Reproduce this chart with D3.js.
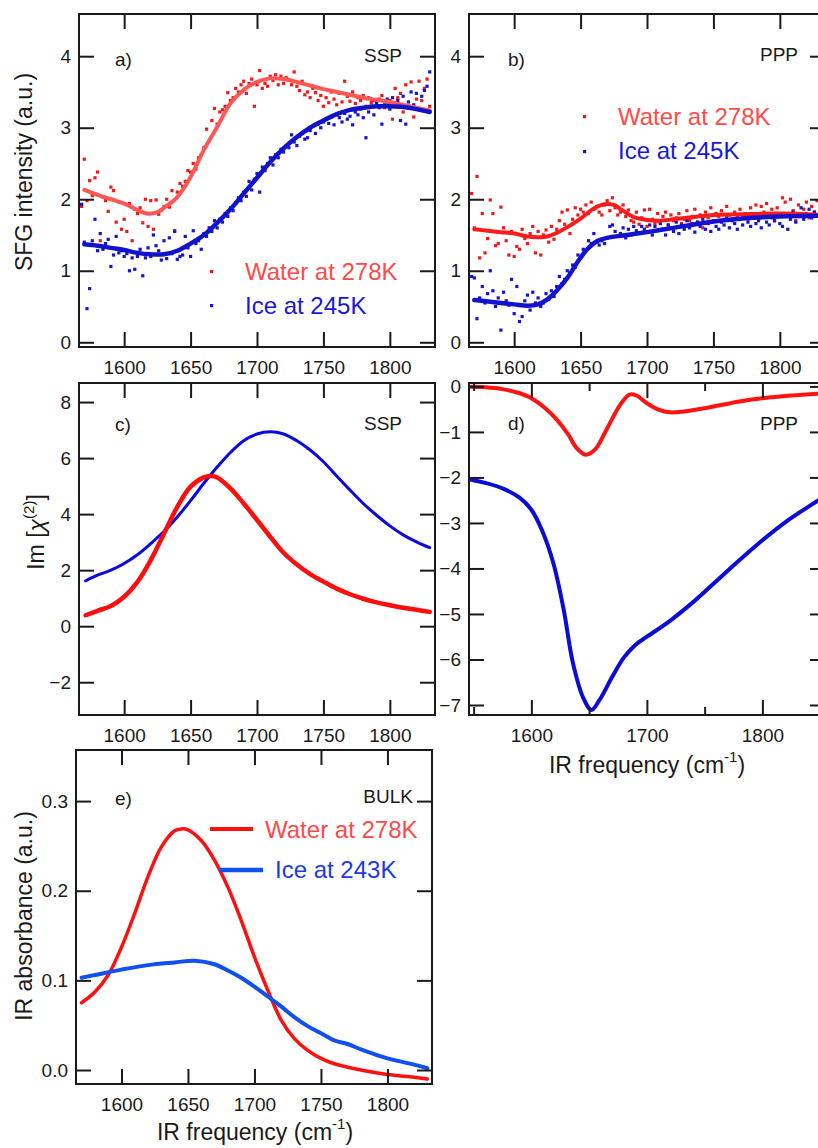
<!DOCTYPE html>
<html>
<head>
<meta charset="utf-8">
<script src="https://cdn.jsdelivr.net/npm/d3@7"></script>
<style>
  html, body { margin: 0; padding: 0; background: #fff; }
  svg { display: block; font-family: "Liberation Sans", Arial, sans-serif; }
  .tick text { font-family: "Liberation Sans", Arial, sans-serif; }
</style>
</head>
<body>
<svg id="fig" width="818" height="1148"></svg>
<script>
// ---------- measured spectra ----------
// SFG scatter data share one IR frequency grid (cm^-1, 2 cm^-1 steps)
const sfgFreq = d3.range(1568, 1831, 2);

const waterSSP = [
  1.90, 2.56, 1.98, 2.26, 2.05, 2.30, 2.38, 1.42, 2.03, 1.98,
  1.83, 2.17, 2.12, 1.68, 1.96, 1.58, 1.72, 1.55, 1.94, 1.42,
  1.86, 1.80, 1.88, 1.67, 2.00, 1.62, 1.98, 1.58, 1.99, 1.79,
  1.85, 1.90, 2.00, 1.89, 2.12, 1.56, 2.10, 2.22, 2.18, 2.25,
  2.40, 2.38, 2.50, 2.42, 2.58, 2.62, 2.72, 2.98, 2.82, 3.10,
  3.27, 3.05, 3.22, 3.25, 3.30, 3.49, 3.38, 3.42, 3.55, 3.50,
  3.60, 3.65, 3.48, 3.62, 3.68, 3.30, 3.60, 3.80, 3.55, 3.62,
  3.58, 3.72, 3.66, 3.74, 3.60, 3.72, 3.62, 3.70, 3.66, 3.60,
  3.78, 3.58, 3.52, 3.65, 3.46, 3.50, 3.42, 3.55, 3.49, 3.38,
  3.45, 3.30, 3.42, 3.35, 3.50, 3.40, 3.32, 3.48, 3.36, 3.65,
  3.44, 3.37, 3.50, 3.34, 3.42, 3.38, 3.45, 3.30, 3.42, 3.35,
  3.38, 3.32, 3.40, 3.45, 3.28, 3.35, 3.38, 3.12, 3.55, 3.42,
  3.48, 3.22, 3.60, 3.30, 3.64, 3.15, 3.40, 3.65, 3.38, 3.55,
  3.68, 3.30
];
const iceSSP = [
  1.93, 1.40, 0.47, 0.75, 1.42, 1.72, 1.28, 1.52, 1.30, 1.38,
  1.44, 1.06, 1.22, 1.48, 1.25, 1.28, 1.20, 1.24, 1.00, 1.18,
  1.02, 1.20, 1.30, 0.93, 1.18, 1.32, 1.20, 1.50, 1.35, 1.28,
  1.15, 1.42, 1.17, 1.46, 1.24, 1.55, 1.16, 1.20, 1.22, 1.48,
  1.32, 1.20, 1.56, 1.38, 1.42, 1.30, 1.52, 1.48, 1.60, 1.55,
  1.70, 1.60, 1.72, 1.68, 1.80, 1.76, 1.88, 1.84, 1.95, 2.02,
  1.98, 2.10, 2.04, 2.25, 2.13, 2.28, 2.36, 2.10, 2.45, 2.40,
  2.50, 2.58, 2.48, 2.62, 2.58, 2.70, 2.66, 2.75, 2.72, 2.90,
  2.80, 2.75, 2.88, 2.92, 2.84, 2.86, 2.96, 3.02, 2.92, 3.05,
  3.00, 3.08, 3.12, 3.06, 3.15, 3.04, 3.18, 3.14, 3.08, 3.20,
  3.12, 3.16, 3.04, 3.22, 3.18, 3.26, 3.14, 2.86, 3.22, 3.30,
  3.18, 3.35, 3.28, 3.05, 3.32, 3.40, 3.26, 3.42, 3.30, 3.38,
  3.10, 3.44, 3.05, 3.36, 3.50, 3.32, 3.48, 3.25, 3.44, 3.52,
  3.58, 3.78
];
const waterPPP = [
  2.08, 1.60, 2.32, 1.18, 1.80, 1.25, 1.45, 1.99, 1.80, 1.35,
  1.38, 1.89, 1.60, 1.42, 1.22, 1.55, 1.20, 1.34, 1.30, 1.58,
  1.45, 1.38, 1.52, 1.62, 1.25, 1.55, 1.22, 1.50, 1.57, 1.40,
  1.62, 1.44, 1.58, 1.70, 1.82, 1.65, 1.85, 1.52, 1.72, 1.88,
  1.78, 1.86, 1.82, 1.92, 1.80, 1.96, 1.86, 1.90, 1.82, 1.78,
  1.92, 1.98, 1.84, 2.02, 1.88, 1.78, 1.82, 1.92, 1.76, 1.85,
  1.70, 1.68, 1.82, 1.65, 1.74, 1.85, 1.62, 1.86, 1.72, 1.66,
  1.80, 1.68, 1.76, 1.82, 1.64, 1.78, 1.70, 1.74, 1.80, 1.66,
  1.72, 1.84, 1.70, 1.76, 1.86, 1.68, 1.78, 1.60, 1.82, 1.74,
  1.88, 1.70, 1.80, 1.76, 1.84, 1.72, 1.90, 1.78, 1.72, 1.82,
  1.76, 1.86, 1.74, 1.80, 1.72, 1.88, 1.78, 1.92, 1.74, 1.90,
  1.82, 1.94, 1.76, 1.86, 1.70, 1.88, 1.80, 2.02, 1.96, 1.78,
  2.00, 1.84, 1.70, 1.92, 1.78, 1.86, 1.96, 1.74, 1.90, 1.82,
  1.98, 1.86
];
const icePPP = [
  0.92, 0.90, 0.33, 0.62, 0.78, 0.55, 0.68, 1.00, 0.72, 0.50,
  0.62, 0.17, 0.70, 0.58, 0.52, 0.88, 0.40, 0.78, 0.29, 0.36,
  0.58, 0.66, 0.45, 0.70, 0.55, 0.62, 0.50, 0.55, 0.68, 0.60,
  0.72, 0.64, 0.78, 0.92, 0.82, 0.88, 1.00, 0.96, 1.08, 1.05,
  1.22, 1.18, 1.30, 1.28, 1.42, 1.38, 1.52, 1.40, 1.36, 1.42,
  1.38, 1.46, 1.62, 1.64, 1.55, 1.48, 1.52, 1.60, 1.46, 1.58,
  1.50, 1.62, 1.56, 1.52, 1.62, 1.58, 1.54, 1.64, 1.50, 1.62,
  1.56, 1.66, 1.58, 1.50, 1.64, 1.60, 1.55, 1.68, 1.52, 1.64,
  1.58, 1.70, 1.60, 1.66, 1.54, 1.68, 1.62, 1.72, 1.58, 1.66,
  1.55, 1.70, 1.62, 1.58, 1.68, 1.64, 1.74, 1.60, 1.70, 1.66,
  1.58, 1.72, 1.64, 1.76, 1.68, 1.62, 1.74, 1.66, 1.70, 1.60,
  1.78, 1.68, 1.64, 1.74, 1.70, 1.80, 1.66, 1.62, 1.76, 1.58,
  1.72, 1.82, 1.68, 1.76, 1.88, 1.72, 1.80, 1.86, 1.74, 1.82,
  1.78, 1.84
];

// ---------- fitted SFG curves ----------
const waterSSPFitFreq = [1570,1580,1590,1600,1610,1617,1625,1630,1640,1650,1660,1670,1680,1690,1700,1710,1720,1730,1740,1750,1760,1770,1780,1790,1800,1810,1820,1830];
const waterSSPFit     = [2.13,2.06,2.00,1.94,1.85,1.80,1.82,1.88,2.03,2.31,2.69,3.01,3.34,3.53,3.64,3.69,3.68,3.64,3.59,3.54,3.50,3.46,3.42,3.39,3.36,3.32,3.28,3.24];
const iceSSPFitFreq = [1570,1580,1590,1600,1610,1620,1630,1640,1650,1660,1670,1680,1690,1700,1710,1720,1730,1740,1750,1760,1770,1780,1790,1800,1810,1820,1830];
const iceSSPFit     = [1.37,1.35,1.32,1.29,1.25,1.23,1.23,1.28,1.38,1.50,1.67,1.86,2.08,2.30,2.52,2.71,2.87,3.00,3.10,3.19,3.25,3.28,3.30,3.30,3.29,3.26,3.22];
const waterPPPFitFreq = [1570,1580,1590,1600,1610,1617,1625,1632,1640,1650,1660,1668,1675,1682,1690,1700,1710,1720,1735,1750,1770,1800,1834];
const waterPPPFit     = [1.58,1.56,1.54,1.52,1.48,1.47,1.48,1.53,1.61,1.73,1.87,1.93,1.92,1.84,1.75,1.71,1.70,1.72,1.75,1.78,1.79,1.80,1.78];
const icePPPFitFreq = [1570,1585,1600,1610,1618,1625,1632,1640,1648,1655,1662,1670,1685,1700,1720,1740,1760,1780,1800,1834];
const icePPPFit     = [0.59,0.56,0.53,0.51,0.53,0.60,0.72,0.90,1.13,1.30,1.41,1.46,1.50,1.54,1.60,1.66,1.71,1.74,1.76,1.77];

// ---------- Im[chi(2)] spectra ----------
const chiSSPWaterFreq = [1571,1580,1590,1600,1610,1620,1630,1640,1650,1660,1665,1670,1680,1690,1700,1710,1720,1730,1740,1750,1760,1770,1780,1790,1800,1815,1830];
const chiSSPWater     = [0.39,0.55,0.72,1.05,1.58,2.36,3.31,4.26,4.98,5.31,5.36,5.31,4.92,4.38,3.79,3.19,2.62,2.20,1.86,1.59,1.34,1.14,0.98,0.85,0.75,0.62,0.51];
const chiSSPIceFreq = [1571,1580,1590,1600,1610,1620,1630,1640,1650,1660,1670,1680,1690,1700,1710,1720,1730,1740,1750,1760,1770,1780,1790,1800,1810,1820,1830];
const chiSSPIce     = [1.62,1.82,2.00,2.24,2.55,2.95,3.39,3.90,4.48,5.10,5.68,6.20,6.62,6.86,6.94,6.86,6.62,6.29,5.87,5.36,4.86,4.38,3.96,3.58,3.26,3.01,2.80];
const chiPPPWaterFreq = [1548,1560,1575,1590,1600,1612,1622,1632,1639,1647,1655,1665,1677,1685,1691,1700,1710,1720,1732,1750,1780,1800,1825,1854];
const chiPPPWater     = [-0.01,-0.02,-0.06,-0.15,-0.26,-0.48,-0.73,-1.06,-1.35,-1.50,-1.39,-0.95,-0.40,-0.18,-0.20,-0.37,-0.51,-0.57,-0.55,-0.48,-0.33,-0.26,-0.20,-0.15];
const chiPPPIceFreq = [1548,1560,1575,1590,1600,1609,1619,1628,1636,1645,1652,1659,1670,1680,1690,1700,1720,1740,1760,1780,1800,1820,1840,1854];
const chiPPPIce     = [-2.05,-2.12,-2.24,-2.45,-2.71,-3.15,-3.88,-4.91,-6.08,-6.85,-7.11,-6.89,-6.38,-5.96,-5.68,-5.50,-5.15,-4.74,-4.28,-3.82,-3.38,-2.98,-2.64,-2.42];

// ---------- bulk IR absorbance ----------
const irWaterFreq = [1570,1580,1590,1600,1610,1620,1630,1640,1645,1650,1660,1670,1680,1690,1700,1710,1720,1730,1740,1750,1760,1780,1800,1820,1830];
const irWater     = [0.075,0.087,0.106,0.137,0.175,0.216,0.249,0.267,0.269,0.268,0.256,0.234,0.204,0.167,0.126,0.089,0.056,0.035,0.022,0.013,0.007,0.000,-0.005,-0.008,-0.010];
const irIceFreq = [1570,1580,1600,1620,1640,1655,1670,1680,1690,1700,1710,1720,1730,1740,1750,1760,1770,1780,1800,1820,1830];
const irIce     = [0.103,0.106,0.112,0.117,0.120,0.122,0.118,0.111,0.103,0.093,0.082,0.071,0.059,0.049,0.041,0.033,0.029,0.023,0.013,0.006,0.002];

// ---------- tick values ----------
const freqTicks = [1600, 1650, 1700, 1750, 1800];
const freqTicksWideMajor = [1600, 1700, 1800];
const freqTicksWideMinor = [1550, 1650, 1750, 1850];
const sfgTicks = [0, 1, 2, 3, 4];
const chiSSPTicks = [-2, 0, 2, 4, 6, 8];
const chiPPPTicks = [0, -1, -2, -3, -4, -5, -6, -7];
const irTicks = [0.0, 0.1, 0.2, 0.3];

// ---------- styling ----------
const INK = "#1a1a1a";
const RED_PT = "#f01818", BLUE_PT = "#1414d2";
const RED_LEG = "#ff4a4a", BLUE_LEG = "#1818dc";
const FONT = "'Liberation Sans', Arial, sans-serif";
const TICK_FS = 19, TITLE_FS = 23, TAG_FS = 19, LEG_FS = 24;

const svg = d3.select("#fig");

let clipId = 0;
function panel(p) {
  const x = d3.scaleLinear().domain(p.xd).range([p.l, p.r]);
  const y = d3.scaleLinear().domain(p.yd).range([p.b, p.t]);
  const g = svg.append("g");

  const id = "clip" + (clipId++);
  g.append("clipPath").attr("id", id).append("rect")
    .attr("x", p.l).attr("y", p.t).attr("width", p.r - p.l).attr("height", p.b - p.t);
  const plot = g.append("g").attr("clip-path", `url(#${id})`);

  const fmtX = d3.format("d");
  const style = sel => {
    sel.select(".domain").remove();
    sel.selectAll(".tick line").attr("stroke", INK).attr("stroke-width", 2);
    sel.selectAll(".tick text").attr("fill", INK).style("font-size", TICK_FS + "px").style("font-family", FONT);
  };
  const major = 15, minor = 8;
  g.append("g").attr("transform", `translate(0,${p.b})`)
    .call(d3.axisBottom(x).tickValues(p.xt).tickSize(-major).tickPadding(14).tickFormat(fmtX)).call(style);
  g.append("g").attr("transform", `translate(0,${p.t})`)
    .call(d3.axisTop(x).tickValues(p.xt).tickSize(-major).tickFormat("")).call(style);
  if (p.xm) {
    g.append("g").attr("transform", `translate(0,${p.b})`)
      .call(d3.axisBottom(x).tickValues(p.xm).tickSize(-minor).tickFormat("")).call(style);
    g.append("g").attr("transform", `translate(0,${p.t})`)
      .call(d3.axisTop(x).tickValues(p.xm).tickSize(-minor).tickFormat("")).call(style);
  }
  g.append("g").attr("transform", `translate(${p.l},0)`)
    .call(d3.axisLeft(y).tickValues(p.yt).tickSize(-major).tickPadding(8).tickFormat(p.yf || d3.format("d"))).call(style);
  g.append("g").attr("transform", `translate(${p.r},0)`)
    .call(d3.axisRight(y).tickValues(p.yt).tickSize(-major).tickFormat("")).call(style);

  g.append("rect").attr("x", p.l).attr("y", p.t).attr("width", p.r - p.l).attr("height", p.b - p.t)
    .attr("fill", "none").attr("stroke", INK).attr("stroke-width", 2);

  return { x, y, g, plot };
}

function dots(P, freq, vals, color) {
  P.plot.append("g").selectAll("rect").data(vals).join("rect")
    .attr("x", (d, i) => P.x(freq[i]) - 1.6).attr("y", d => P.y(d) - 1.6)
    .attr("width", 3.2).attr("height", 3.2).attr("fill", color);
}
function curve(P, freq, vals, color, w) {
  const line = d3.line().x((d, i) => P.x(freq[i])).y(d => P.y(d)).curve(d3.curveCatmullRom.alpha(0.5));
  P.plot.append("path").datum(vals).attr("d", line)
    .attr("fill", "none").attr("stroke", color).attr("stroke-width", w)
    .attr("stroke-linejoin", "round").attr("stroke-linecap", "round");
}
function text(x, y, str, opt = {}) {
  return svg.append("text").attr("x", x).attr("y", y).text(str)
    .attr("fill", opt.fill || INK).attr("text-anchor", opt.anchor || "start")
    .style("font-size", (opt.size || TAG_FS) + "px").style("font-family", FONT);
}

// ---------- a) SSP SFG ----------
const A = panel({ l: 79, r: 435, t: 14, b: 347, xd: [1566, 1834], yd: [-0.066, 4.59], xt: freqTicks, yt: sfgTicks });
dots(A, sfgFreq, waterSSP, RED_PT);
dots(A, sfgFreq, iceSSP, BLUE_PT);
curve(A, waterSSPFitFreq, waterSSPFit, "#ff5656", 4);
curve(A, iceSSPFitFreq, iceSSPFit, "#1212c8", 4.5);
text(115, 66, "a)");
text(402, 62, "SSP", { anchor: "end" });
svg.append("rect").attr("x", 210).attr("y", 270).attr("width", 3.2).attr("height", 3.2).attr("fill", RED_PT);
svg.append("rect").attr("x", 210).attr("y", 304).attr("width", 3.2).attr("height", 3.2).attr("fill", BLUE_PT);
text(245, 280, "Water at 278K", { fill: RED_LEG, size: LEG_FS });
text(245, 314, "Ice at 245K", { fill: BLUE_LEG, size: LEG_FS });

// ---------- b) PPP SFG ----------
const B = panel({ l: 469, r: 825, t: 14, b: 347, xd: [1566, 1834], yd: [-0.066, 4.59], xt: freqTicks, yt: sfgTicks });
dots(B, sfgFreq, waterPPP, RED_PT);
dots(B, sfgFreq, icePPP, BLUE_PT);
curve(B, waterPPPFitFreq, waterPPPFit, "#ff1a1a", 4);
curve(B, icePPPFitFreq, icePPPFit, "#1212d0", 4.5);
text(508, 66, "b)");
text(798, 61, "PPP", { anchor: "end" });
svg.append("rect").attr("x", 583).attr("y", 115).attr("width", 3.2).attr("height", 3.2).attr("fill", RED_PT);
svg.append("rect").attr("x", 583).attr("y", 150).attr("width", 3.2).attr("height", 3.2).attr("fill", BLUE_PT);
text(618, 125, "Water at 278K", { fill: RED_LEG, size: LEG_FS });
text(618, 159, "Ice at 245K", { fill: BLUE_LEG, size: LEG_FS });

// ---------- c) SSP Im[chi(2)] ----------
const C = panel({ l: 79, r: 435, t: 383, b: 715, xd: [1566, 1834], yd: [-3.17, 8.68], xt: freqTicks, yt: chiSSPTicks });
curve(C, chiSSPIceFreq, chiSSPIce, "#0a0ae0", 3);
curve(C, chiSSPWaterFreq, chiSSPWater, "#ff0c0c", 4.5);
text(115, 431, "c)");
text(402, 430, "SSP", { anchor: "end" });

// ---------- d) PPP Im[chi(2)] ----------
const D = panel({ l: 469, r: 825, t: 383, b: 715, xd: [1546, 1854.2], yd: [-7.22, 0.075],
  xt: freqTicksWideMajor, xm: freqTicksWideMinor, yt: chiPPPTicks });
curve(D, chiPPPWaterFreq, chiPPPWater, "#ff1212", 4);
curve(D, chiPPPIceFreq, chiPPPIce, "#0c0cd8", 4);
text(508, 430, "d)");
text(798, 430, "PPP", { anchor: "end" });

// ---------- e) bulk IR ----------
const E = panel({ l: 76, r: 432, t: 750, b: 1084, xd: [1565.8, 1833.5], yd: [-0.0156, 0.357],
  xt: freqTicks, yt: irTicks, yf: d3.format(".1f") });
curve(E, irWaterFreq, irWater, "#ff1010", 3.5);
curve(E, irIceFreq, irIce, "#1050ee", 4);
text(115, 805, "e)");
text(413, 803, "BULK", { anchor: "end" });
svg.append("line").attr("x1", 210).attr("x2", 253).attr("y1", 829).attr("y2", 829).attr("stroke", "#ff1010").attr("stroke-width", 4);
svg.append("line").attr("x1", 220).attr("x2", 263).attr("y1", 870).attr("y2", 870).attr("stroke", "#1050ee").attr("stroke-width", 4.5);
text(265, 838, "Water at 278K", { fill: RED_LEG, size: LEG_FS });
text(275, 878, "Ice at 243K", { fill: "#1a3ae8", size: LEG_FS });

// ---------- axis titles ----------
function vTitle(cx, cy) {
  return svg.append("text").attr("transform", `translate(${cx},${cy}) rotate(-90)`)
    .attr("text-anchor", "middle").attr("fill", INK)
    .style("font-size", TITLE_FS + "px").style("font-family", FONT);
}
vTitle(32, 172).text("SFG intensity (a.u.)");
vTitle(32, 916).text("IR absorbance (a.u.)");
const chiT = vTitle(44, 532);
chiT.append("tspan").text("Im [");
chiT.append("tspan").text("χ").style("font-style", "italic");
chiT.append("tspan").attr("dy", -10).style("font-size", "15px").text("(2)");
chiT.append("tspan").attr("dy", 10).text("]");

function xTitle(cx, cy) {
  const t = svg.append("text").attr("x", cx).attr("y", cy).attr("text-anchor", "middle").attr("fill", INK)
    .style("font-size", TITLE_FS + "px").style("font-family", FONT);
  t.append("tspan").text("IR frequency (cm");
  t.append("tspan").attr("dy", -11).style("font-size", "15px").text("-1");
  t.append("tspan").attr("dy", 11).text(")");
}
xTitle(647, 773);
xTitle(255, 1140);
</script>
</body>
</html>
